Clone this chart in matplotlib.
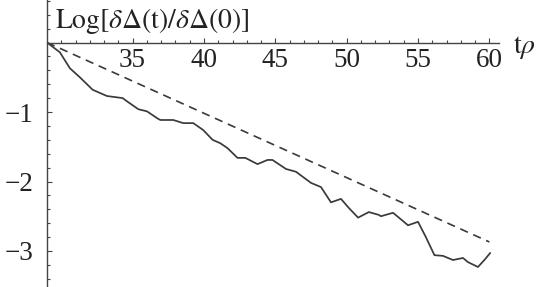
import matplotlib
matplotlib.use("Agg")
import matplotlib.pyplot as plt
from matplotlib.ticker import FixedLocator, FuncFormatter

# ---- data ----
t_solid = [29.0, 29.9, 30.6, 31.3, 32.2, 33.2, 34.3, 34.7, 35.4, 36.0, 36.8, 36.95,
           37.85, 38.55, 39.25, 39.95, 40.6, 41.15, 41.65, 42.35, 42.9, 43.75, 44.45,
           44.8, 45.75, 46.45, 47.5, 48.2, 48.9, 49.6, 50.15, 50.8, 51.55, 52.25,
           52.4, 53.25, 54.3, 55.0, 55.55, 56.15, 56.75, 57.45, 58.15, 58.5, 59.2,
           59.65, 60.05]
y_solid = [0.0, -0.14, -0.37, -0.50, -0.68, -0.77, -0.80, -0.86, -0.96, -0.99, -1.10, -1.115,
           -1.115, -1.16, -1.16, -1.26, -1.40, -1.45, -1.52, -1.66, -1.66, -1.75, -1.69,
           -1.69, -1.82, -1.86, -2.02, -2.08, -2.30, -2.25, -2.38, -2.52, -2.44, -2.48,
           -2.50, -2.45, -2.63, -2.58, -2.80, -3.06, -3.07, -3.13, -3.10, -3.16, -3.23,
           -3.13, -3.03]
t_dash = [29.0, 60.0]
y_dash = [0.0, -2.87]

x_major = [35, 40, 45, 50, 55, 60]
y_major = [-1, -2, -3]

plt.rcParams['font.family'] = 'Liberation Serif'
plt.rcParams['mathtext.fontset'] = 'stix'

W, H = 538, 287
fig = plt.figure(figsize=(W / 100, H / 100), dpi=100)
x0, x1 = 47, 499
ax = fig.add_axes([x0 / W, 0, (x1 - x0) / W, 1])

pxu = 14.27
ax.set_xlim(29, 29 + (x1 - x0) / pxu)
ax.set_ylim(-(H - 42.5) / 69.5, 42.5 / 69.5)

axcol = '#444444'
lncol = '#3a3a3a'
ax.plot(t_solid, y_solid, color=lncol, lw=1.25, solid_joinstyle='round')
ax.plot(t_dash, y_dash, color=lncol, lw=1.2, dashes=(5.0, 3.5))

for s in ['top', 'right']:
    ax.spines[s].set_visible(False)
ax.spines['left'].set_position(('data', 29))
ax.spines['bottom'].set_position(('data', 0))
for s in ['left', 'bottom']:
    ax.spines[s].set_color(axcol)
    ax.spines[s].set_linewidth(1.0)

ax.xaxis.set_major_locator(FixedLocator(x_major))
ax.xaxis.set_minor_locator(FixedLocator([v for v in range(30, 61) if v not in x_major]))
ax.yaxis.set_major_locator(FixedLocator(y_major))
yminor = [round(-3.4 + 0.2 * i, 2) for i in range(21)]
ax.yaxis.set_minor_locator(FixedLocator([v for v in yminor if abs(v - round(v)) > 1e-6]))

ax.xaxis.set_major_formatter(FuncFormatter(lambda v, p: f"{int(v)}"))
ax.yaxis.set_major_formatter(FuncFormatter(lambda v, p: "\u2212" + f"{abs(int(v))}"))

ax.tick_params(which='both', direction='in', color=axcol, width=0.8, labelcolor='#222222')
ax.tick_params(which='major', length=3.8)
ax.tick_params(which='minor', length=2.2)
ax.tick_params(axis='x', which='major', labelsize=19.5, pad=4)
ax.tick_params(axis='y', which='major', labelsize=19.5, pad=10)
for lab in ax.get_xticklabels() + ax.get_yticklabels():
    lab.set_fontfamily('Liberation Serif')

fig.text(55 / W, 1 - 28 / H,
         r'$\mathrm{Log}[\delta\Delta(\mathrm{t})/\delta\Delta(0)]$',
         fontsize=20, color='#222222', ha='left', va='baseline')
fig.text(513 / W, 1 - 53 / H, r'$\mathrm{t}\rho$', fontsize=20,
         color='#222222', ha='left', va='baseline')

fig.savefig('out.png', dpi=100)
